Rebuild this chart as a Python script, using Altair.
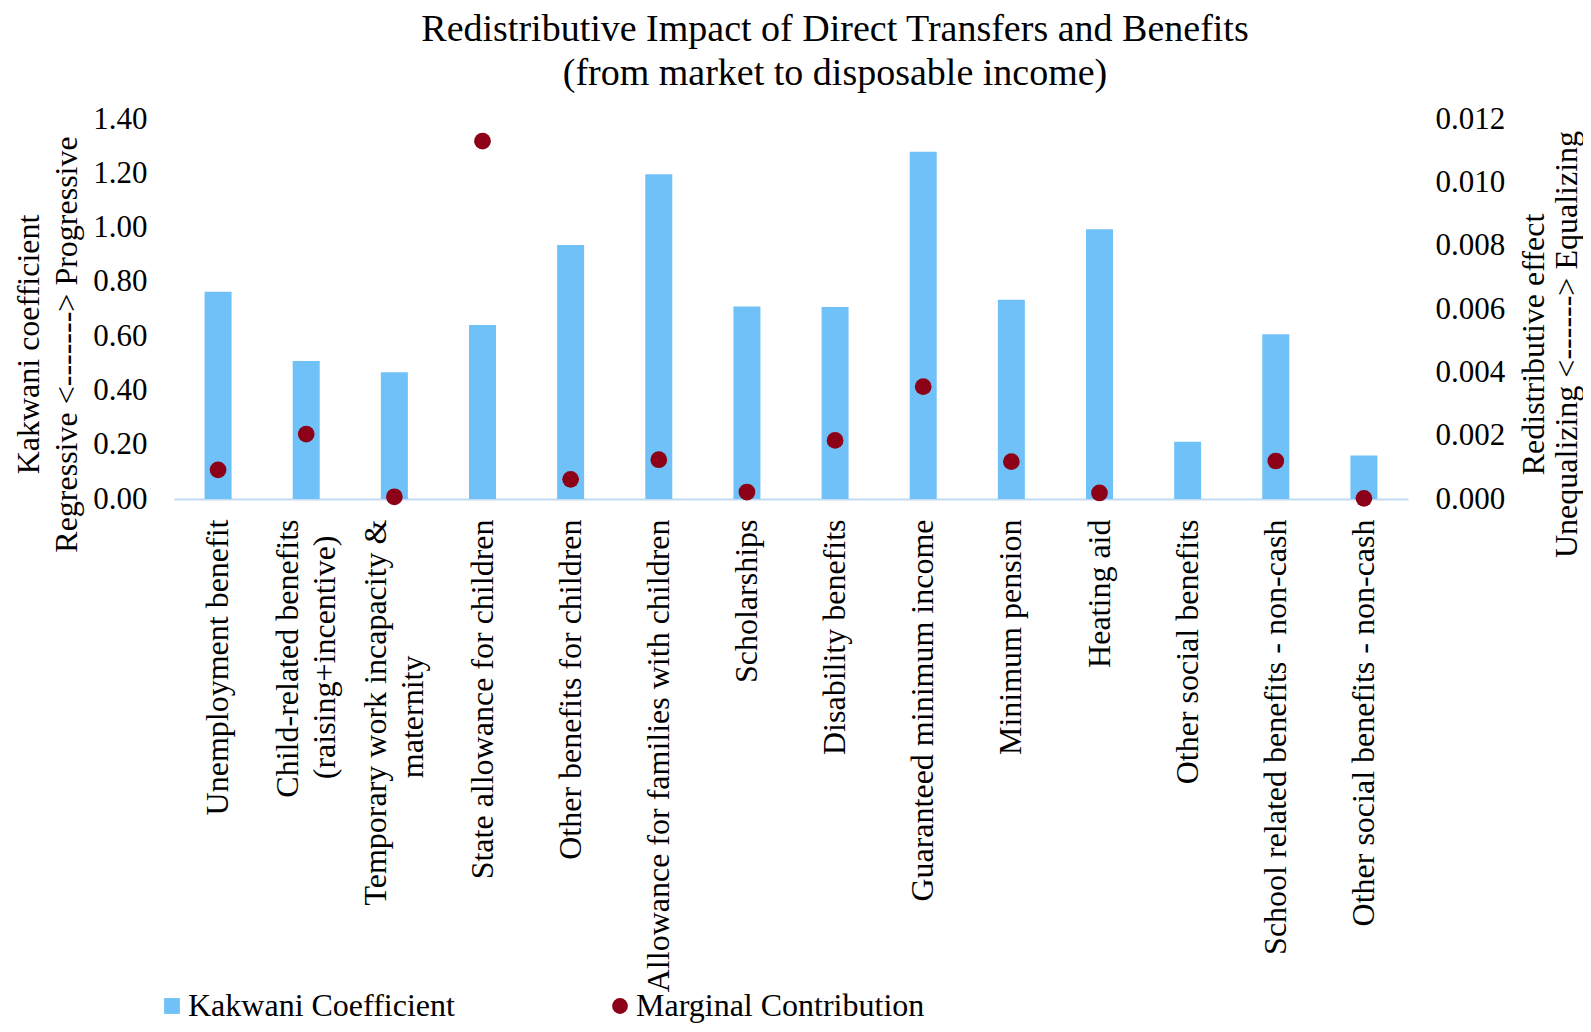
import altair as alt
import pandas as pd

PAD = "\u00a0"
WJ = "\u2060"

categories = [
    "Unemployment benefit",
    "Child-related benefits|(raising+incentive)" + PAD * 2 + WJ,
    "Temporary work incapacity &|maternity" + PAD * 17 + WJ,
    "State allowance for children",
    "Other benefits for children",
    "Allowance for families with children",
    "Scholarships",
    "Disability benefits",
    "Guaranteed minimum income",
    "Minimum pension",
    "Heating aid",
    "Other social benefits",
    "School related benefits - non-cash",
    "Other social benefits - non-cash",
]
kakwani = [0.764, 0.508, 0.467, 0.641, 0.936, 1.196, 0.709, 0.707, 1.279, 0.734, 0.994, 0.211, 0.607, 0.160]
marginal = [0.00092, 0.00205, 0.00007, 0.0113, 0.00062, 0.00124, 0.00022, 0.00185, 0.00355, 0.00118, 0.00019, None, 0.0012, 0.00002]

series_names = ["Kakwani Coefficient", "Marginal Contribution"]
series_colors = ["#70C1F7", "#8C0018"]
left_ticks = [0.0, 0.2, 0.4, 0.6, 0.8, 1.0, 1.2, 1.4]
right_ticks = [0.0, 0.002, 0.004, 0.006, 0.008, 0.010, 0.012]

rows = []
for c, k, m in zip(categories, kakwani, marginal):
    rows.append({"category": c, "series": series_names[0], "value": k})
    rows.append({"category": c, "series": series_names[1], "value": m})
df = pd.DataFrame(rows)

FONT = "Liberation Serif"
FS = 31

x_enc = alt.X(
    "category:N",
    sort=categories,
    scale=alt.Scale(paddingInner=0, paddingOuter=0),
    axis=alt.Axis(
        title=None,
        labelAngle=270,
        labelAlign="right",
        labelBaseline="middle",
        labelExpr="split(datum.label, '|')",
        labelLineHeight=37,
        labelOffset={"condition": {"test": "indexof(datum.label, '|') >= 0", "value": -18}, "value": 0},
        labelPadding=20,
        labelFont=FONT,
        labelFontSize=32,
        labelColor="black",
        ticks=False,
        tickSize=0,
        domainColor="#C2DBF2",
        domainWidth=2,
        labelLimit=0,
    ),
)

legend_cfg = dict(
    title=None,
    orient="none",
    legendX=-18,
    legendY=871,
    direction="horizontal",
    columns=2,
    columnPadding=149,
    symbolSize=250,
    labelFont=FONT,
    labelFontSize=32,
    labelColor="black",
    labelOffset=0,
    labelLimit=0,
    padding=0,
    symbolStrokeWidth=0,
)

color_enc = alt.Color(
    "series:N",
    scale=alt.Scale(domain=series_names, range=series_colors),
    legend=alt.Legend(**legend_cfg),
)

shape_enc = alt.Shape(
    "series:N",
    scale=alt.Scale(domain=series_names, range=["square", "circle"]),
    legend=alt.Legend(**legend_cfg),
)

bars = alt.Chart(df).transform_filter(
    alt.datum.series == series_names[0]
).mark_bar(size=27).encode(
    x=x_enc,
    y=alt.Y(
        "value:Q",
        scale=alt.Scale(domain=[0, 1.4], nice=False, zero=True),
        axis=alt.Axis(
            values=left_ticks,
            format=".2f",
            grid=False,
            domain=False,
            ticks=False,
            tickSize=0,
            labelPadding=27,
            labelFont=FONT,
            labelFontSize=FS,
            labelColor="black",
            title=["Kakwani coefficient", "Regressive <-------> Progressive"],
            titleFont=FONT,
            titleFontSize=32,
            titleFontWeight="normal",
            titleColor="black",
            titleAngle=270,
            titleAlign="center",
            titleBaseline="middle",
            titleLineHeight=38,
            titleX=-146,
            titleY=225,
        ),
    ),
    color=color_enc,
)

points = alt.Chart(df).transform_filter(
    alt.datum.series == series_names[1]
).mark_point(filled=True, size=280, opacity=1).encode(
    x=x_enc,
    y=alt.Y(
        "value:Q",
        scale=alt.Scale(domain=[0, 0.012], nice=False, zero=True),
        axis=alt.Axis(
            orient="right",
            values=right_ticks,
            format=".3f",
            grid=False,
            domain=False,
            ticks=False,
            tickSize=0,
            labelPadding=27,
            labelFont=FONT,
            labelFontSize=FS,
            labelColor="black",
            title=["Redistributive effect", "Unequalizing <------> Equalizing"],
            titleFont=FONT,
            titleFontSize=32,
            titleFontWeight="normal",
            titleColor="black",
            titleAngle=270,
            titleAlign="center",
            titleBaseline="middle",
            titleLineHeight=33,
            titleX=125,
            titleY=225,
        ),
    ),
    color=color_enc,
    shape=shape_enc,
)

chart = alt.layer(bars, points).resolve_scale(y="independent").properties(
    width=1234,
    height=380,
    autosize=alt.AutoSizeParams(type="none"),
    padding={"left": 166, "top": 111, "right": 175, "bottom": 525},
    title=alt.Title(
        text=["Redistributive Impact of Direct Transfers and Benefits", "(from market to disposable income)"],
        font=FONT,
        fontSize=38,
        fontWeight="normal",
        color="black",
        lineHeight=44,
        anchor="middle",
        dx=44,
        offset=10,
    ),
).configure(background="white").configure_view(stroke=None)

chart.save("out.html", embed_options={"renderer": "svg", "actions": False})
